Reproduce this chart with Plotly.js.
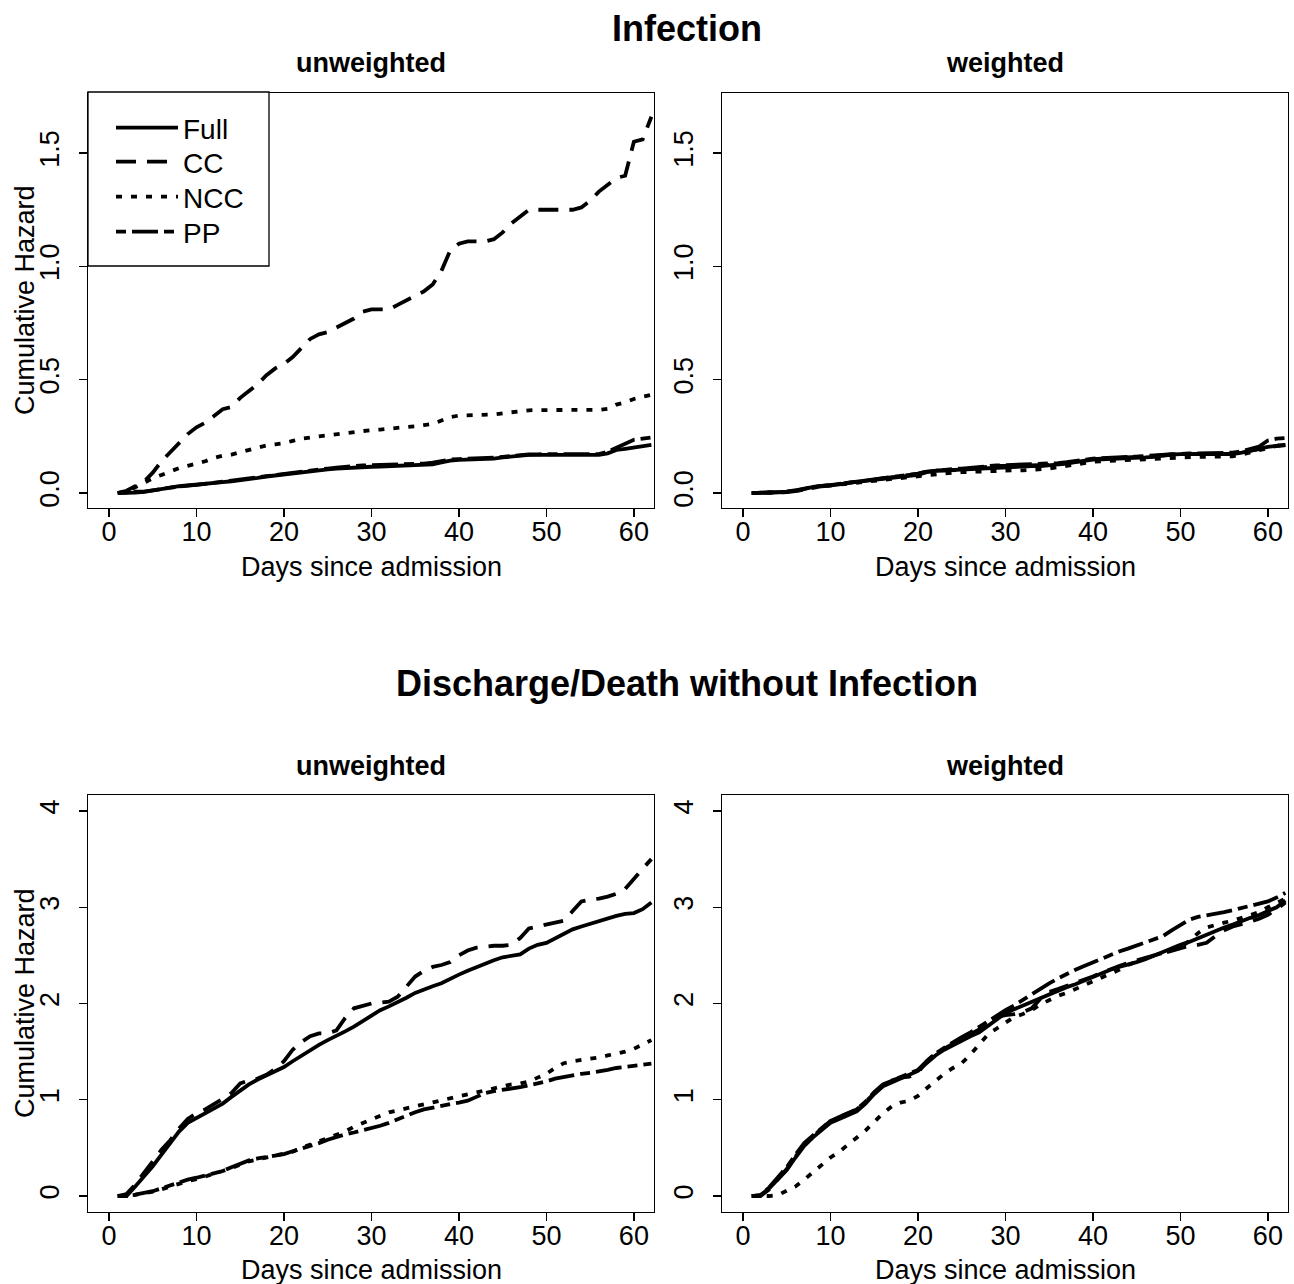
<!DOCTYPE html>
<html>
<head>
<meta charset="utf-8">
<script src="https://cdn.plot.ly/plotly-3.0.1.min.js"></script>
<style>html,body{margin:0;padding:0;background:#fff;}#chart{width:1294px;height:1284px;}</style>
</head>
<body>
<div id="chart"></div>
<script>
// ---------- data ----------
const days = [1,2,3,4,5,6,7,8,9,10,11,12,13,14,15,16,17,18,19,20,21,22,23,24,25,26,27,28,29,30,31,32,33,34,35,36,37,38,39,40,41,42,43,44,45,46,47,48,49,50,51,52,53,54,55,56,57,58,59,60,61,62];
const seriesNames = ["Full", "CC", "NCC", "PP"];
const mainTitles = ["Infection", "Discharge/Death without Infection"];
const panelTitles = ["unweighted", "weighted"];
const xTitle = "Days since admission";
const yTitle = "Cumulative Hazard";
const xTicks = [0,10,20,30,40,50,60];
const yTicksInf = [0,0.5,1,1.5];
const yTicksDis = [0,1,2,3,4];

// Infection, unweighted
const infU_Full = [0,0,0.002,0.005,0.01,0.017,0.024,0.03,0.033,0.035,0.04,0.045,0.048,0.052,0.056,0.061,0.067,0.073,0.078,0.083,0.088,0.093,0.097,0.1,0.104,0.108,0.111,0.113,0.115,0.116,0.117,0.118,0.119,0.119,0.12,0.122,0.126,0.135,0.143,0.146,0.147,0.148,0.149,0.152,0.157,0.162,0.166,0.168,0.168,0.168,0.168,0.168,0.168,0.168,0.168,0.168,0.175,0.19,0.195,0.2,0.207,0.212];
const infU_CC = [0,0.01,0.03,0.05,0.09,0.14,0.18,0.22,0.26,0.29,0.31,0.34,0.37,0.38,0.42,0.45,0.48,0.52,0.55,0.57,0.6,0.64,0.68,0.7,0.71,0.73,0.75,0.77,0.8,0.81,0.81,0.81,0.83,0.85,0.87,0.89,0.92,0.98,1.07,1.1,1.11,1.11,1.11,1.12,1.15,1.19,1.22,1.25,1.25,1.25,1.25,1.25,1.25,1.26,1.29,1.33,1.36,1.39,1.4,1.55,1.56,1.66];
const infU_NCC = [0,0.01,0.025,0.045,0.065,0.08,0.095,0.11,0.12,0.13,0.14,0.155,0.165,0.17,0.18,0.19,0.2,0.21,0.215,0.22,0.23,0.24,0.245,0.25,0.255,0.26,0.265,0.27,0.275,0.278,0.28,0.283,0.287,0.29,0.295,0.3,0.305,0.32,0.335,0.342,0.343,0.344,0.345,0.347,0.352,0.357,0.362,0.365,0.366,0.366,0.366,0.366,0.366,0.366,0.366,0.367,0.372,0.39,0.4,0.415,0.425,0.433];
const infU_PP = [0,0.004,0.006,0.006,0.01,0.017,0.024,0.03,0.033,0.036,0.042,0.047,0.05,0.055,0.06,0.065,0.07,0.076,0.08,0.085,0.09,0.095,0.1,0.104,0.108,0.112,0.116,0.12,0.122,0.123,0.124,0.124,0.125,0.126,0.127,0.13,0.134,0.142,0.148,0.15,0.151,0.152,0.153,0.156,0.16,0.164,0.168,0.17,0.171,0.171,0.171,0.171,0.171,0.171,0.171,0.172,0.182,0.2,0.215,0.235,0.24,0.245];

// Infection, weighted
const infW_Full = [0,0,0,0.002,0.004,0.008,0.018,0.027,0.03,0.032,0.038,0.045,0.05,0.055,0.06,0.064,0.068,0.072,0.076,0.08,0.092,0.098,0.1,0.102,0.104,0.106,0.11,0.113,0.115,0.116,0.117,0.118,0.119,0.119,0.122,0.126,0.13,0.136,0.142,0.148,0.149,0.15,0.151,0.153,0.155,0.157,0.16,0.166,0.17,0.172,0.172,0.172,0.172,0.172,0.172,0.172,0.178,0.188,0.198,0.204,0.208,0.212];
const infW_CC = [0,0,0,0.003,0.006,0.012,0.02,0.028,0.032,0.035,0.04,0.046,0.052,0.056,0.06,0.065,0.07,0.075,0.08,0.085,0.095,0.1,0.1,0.1,0.102,0.108,0.112,0.117,0.12,0.12,0.12,0.12,0.121,0.122,0.124,0.128,0.132,0.138,0.144,0.15,0.152,0.152,0.153,0.155,0.158,0.16,0.163,0.168,0.172,0.172,0.172,0.172,0.172,0.172,0.172,0.174,0.18,0.188,0.196,0.203,0.208,0.212];
const infW_NCC = [0,0,0,0.002,0.004,0.008,0.016,0.024,0.03,0.033,0.038,0.042,0.046,0.05,0.054,0.058,0.062,0.066,0.07,0.074,0.08,0.085,0.088,0.09,0.092,0.094,0.096,0.098,0.1,0.1,0.1,0.1,0.102,0.104,0.108,0.114,0.12,0.128,0.134,0.138,0.14,0.142,0.144,0.146,0.148,0.15,0.152,0.155,0.158,0.16,0.16,0.16,0.16,0.16,0.16,0.162,0.17,0.18,0.19,0.2,0.208,0.215];
const infW_PP = [0,0,0.002,0.004,0.006,0.01,0.02,0.028,0.032,0.035,0.04,0.047,0.052,0.057,0.062,0.066,0.07,0.075,0.08,0.086,0.095,0.1,0.103,0.106,0.108,0.112,0.116,0.12,0.122,0.123,0.124,0.124,0.125,0.126,0.128,0.132,0.136,0.142,0.148,0.152,0.154,0.155,0.156,0.158,0.161,0.164,0.167,0.17,0.173,0.174,0.175,0.175,0.175,0.175,0.176,0.178,0.184,0.194,0.205,0.232,0.24,0.243];

// Discharge/Death without infection, unweighted
const disU_Full = [0,0,0.1,0.2,0.31,0.43,0.55,0.67,0.76,0.81,0.85,0.9,0.96,1.03,1.1,1.16,1.21,1.25,1.29,1.34,1.4,1.46,1.51,1.57,1.62,1.66,1.71,1.76,1.82,1.88,1.93,1.97,2.01,2.06,2.11,2.15,2.18,2.21,2.26,2.3,2.34,2.38,2.42,2.45,2.48,2.5,2.51,2.57,2.61,2.63,2.68,2.73,2.77,2.8,2.83,2.85,2.88,2.91,2.93,2.94,2.98,3.05];
const disU_CC = [0,0.02,0.12,0.24,0.36,0.48,0.58,0.7,0.8,0.86,0.9,0.95,1.01,1.07,1.17,1.2,1.22,1.26,1.32,1.4,1.52,1.6,1.66,1.69,1.69,1.72,1.85,1.95,1.98,2.0,2.01,2.02,2.07,2.18,2.28,2.34,2.38,2.4,2.43,2.5,2.55,2.58,2.59,2.6,2.6,2.61,2.68,2.78,2.8,2.82,2.84,2.86,2.96,3.06,3.08,3.09,3.11,3.14,3.19,3.3,3.4,3.5];
const disU_NCC = [0,0.005,0.012,0.03,0.045,0.07,0.1,0.13,0.155,0.175,0.2,0.23,0.26,0.29,0.33,0.36,0.38,0.4,0.415,0.43,0.46,0.5,0.535,0.565,0.6,0.63,0.67,0.72,0.76,0.8,0.84,0.87,0.89,0.91,0.93,0.95,0.97,1.0,1.02,1.04,1.06,1.08,1.1,1.12,1.14,1.16,1.17,1.19,1.23,1.27,1.33,1.38,1.4,1.41,1.43,1.44,1.46,1.48,1.5,1.53,1.57,1.62];
const disU_PP = [0,0,0.015,0.03,0.05,0.08,0.11,0.145,0.17,0.19,0.215,0.24,0.26,0.3,0.34,0.37,0.39,0.405,0.42,0.435,0.465,0.49,0.52,0.55,0.585,0.615,0.64,0.66,0.68,0.7,0.73,0.76,0.8,0.84,0.87,0.9,0.92,0.94,0.955,0.97,0.99,1.03,1.07,1.09,1.1,1.115,1.13,1.15,1.17,1.19,1.22,1.24,1.26,1.27,1.28,1.29,1.31,1.33,1.34,1.35,1.36,1.375];

// Discharge/Death without infection, weighted
const disW_Full = [0,0.01,0.08,0.18,0.27,0.4,0.52,0.61,0.69,0.76,0.8,0.84,0.88,0.96,1.06,1.14,1.18,1.22,1.26,1.3,1.38,1.46,1.52,1.57,1.62,1.66,1.7,1.77,1.84,1.9,1.94,1.98,2.02,2.06,2.1,2.13,2.17,2.2,2.24,2.28,2.32,2.35,2.38,2.4,2.43,2.46,2.5,2.54,2.58,2.61,2.64,2.68,2.72,2.76,2.79,2.82,2.86,2.89,2.92,2.96,3.0,3.07];
const disW_CC = [0,0,0.07,0.17,0.28,0.41,0.53,0.62,0.7,0.78,0.82,0.86,0.9,0.98,1.07,1.15,1.2,1.23,1.24,1.28,1.4,1.48,1.53,1.58,1.63,1.68,1.73,1.8,1.86,1.88,1.89,1.91,1.95,2.05,2.12,2.15,2.18,2.21,2.24,2.28,2.32,2.36,2.39,2.42,2.45,2.48,2.5,2.52,2.55,2.58,2.6,2.61,2.63,2.7,2.76,2.8,2.82,2.85,2.88,2.92,2.98,3.05];
const disW_NCC = [0,0,0,0.01,0.05,0.1,0.17,0.25,0.33,0.4,0.46,0.53,0.61,0.68,0.77,0.86,0.93,0.97,0.99,1.04,1.12,1.2,1.27,1.33,1.38,1.47,1.58,1.68,1.74,1.8,1.86,1.89,1.93,1.99,2.04,2.08,2.11,2.15,2.19,2.23,2.26,2.3,2.35,2.4,2.44,2.47,2.5,2.53,2.55,2.58,2.65,2.73,2.79,2.82,2.84,2.86,2.89,2.92,2.95,3.0,3.04,3.09];
const disW_PP = [0,0.01,0.09,0.2,0.3,0.43,0.55,0.63,0.71,0.78,0.82,0.86,0.9,0.98,1.08,1.16,1.2,1.23,1.27,1.31,1.4,1.48,1.54,1.6,1.65,1.7,1.76,1.82,1.88,1.93,1.98,2.04,2.1,2.16,2.21,2.26,2.31,2.35,2.39,2.43,2.47,2.51,2.54,2.57,2.6,2.63,2.66,2.7,2.76,2.82,2.87,2.9,2.92,2.94,2.95,2.97,2.99,3.01,3.03,3.06,3.1,3.15];

// ---------- styling ----------
const FONT = "Liberation Sans, Arial, Helvetica, sans-serif";
const dashes = {Full: "solid", CC: "20px,11px", NCC: "6px,9px", PP: "10px,6px,26px,6px"};
const LW = 3.8;
const legendIds = ["legend", "legend2", "legend3", "legend4"];

const panels = [
  {xa: "x",  ya: "y",  data: [infU_Full, infU_CC, infU_NCC, infU_PP], legend: true},
  {xa: "x2", ya: "y2", data: [infW_Full, infW_CC, infW_NCC, infW_PP], legend: false},
  {xa: "x3", ya: "y3", data: [disU_Full, disU_CC, disU_NCC, disU_PP], legend: false},
  {xa: "x4", ya: "y4", data: [disW_Full, disW_CC, disW_NCC, disW_PP], legend: false}
];

const traces = [];
panels.forEach(p => {
  p.data.forEach((vals, i) => {
    traces.push({
      x: days, y: vals, type: "scatter", mode: "lines",
      name: seriesNames[i], xaxis: p.xa, yaxis: p.ya,
      legend: legendIds[i],
      line: {color: "#000", width: LW, dash: dashes[seriesNames[i]]},
      showlegend: p.legend, hoverinfo: "skip"
    });
  });
});

const W = 1294, H = 1284;
const xL = [88/W, 654/W], xR = [722/W, 1288/W];
const yT = [1 - 508/H, 1 - 93/H], yB = [1 - 1212/H, 1 - 795/H];

function xAxis(domain, anchor) {
  return {
    domain: domain, anchor: anchor, range: [-2.4, 62.3],
    tickmode: "array", tickvals: xTicks, ticks: "outside", ticklen: 8, tickwidth: 1.3, tickcolor: "#000",
    ticklabelstandoff: -9,
    showline: true, mirror: true, linecolor: "#000", linewidth: 1.3,
    showgrid: false, zeroline: false, fixedrange: true,
    tickfont: {family: FONT, size: 27, color: "#000"}
  };
}
function yAxis(domain, anchor, range, ticks, fmt) {
  return {
    domain: domain, anchor: anchor, range: range,
    tickmode: "array", tickvals: ticks, tickformat: fmt, ticks: "outside", ticklen: 8, tickwidth: 1.3, tickcolor: "#000",
    tickangle: -90, ticklabelstandoff: 9,
    showline: true, mirror: true, linecolor: "#000", linewidth: 1.3,
    showgrid: false, zeroline: false, fixedrange: true,
    tickfont: {family: FONT, size: 27, color: "#000"}
  };
}

function ann(text, x, y, size, bold, angle) {
  return {
    text: bold ? "<b>" + text + "</b>" : text, x: x, y: y, xref: "paper", yref: "paper",
    xanchor: "center", yanchor: "middle", showarrow: false, textangle: angle || 0,
    font: {family: FONT, size: size, color: "#000"}
  };
}

const cxL = (88 + 654) / 2 / W, cxR = (722 + 1288) / 2 / W;
const annotations = [
  ann(mainTitles[0], 687 / W, 1 - 28 / H, 36, true),
  ann(mainTitles[1], 687 / W, 1 - 683 / H, 36, true),
  ann(panelTitles[0], cxL, 1 - 63 / H, 27, true),
  ann(panelTitles[1], cxR, 1 - 63 / H, 27, true),
  ann(panelTitles[0], cxL, 1 - 766 / H, 27, true),
  ann(panelTitles[1], cxR, 1 - 766 / H, 27, true),
  ann(xTitle, cxL, 1 - 567 / H, 27, false),
  ann(xTitle, cxR, 1 - 567 / H, 27, false),
  ann(xTitle, cxL, 1 - 1270 / H, 27, false),
  ann(xTitle, cxR, 1 - 1270 / H, 27, false),
  ann(yTitle, 25 / W, 1 - 300 / H, 27, false, -90),
  ann(yTitle, 25 / W, 1 - 1003 / H, 27, false, -90)
];

// legend: one Plotly legend per entry, inside a framed box
const legendRowsY = [128, 162, 197, 232];
const legendX = 111, legendItemW = 62;
function legendCfg(rowY) {
  return {
    x: legendX / W, y: 1 - rowY / H, xanchor: "left", yanchor: "middle",
    bgcolor: "rgba(0,0,0,0)", borderwidth: 0,
    font: {family: FONT, size: 28, color: "#000"},
    itemwidth: legendItemW
  };
}

const layout = {
  width: W, height: H,
  margin: {l: 0, r: 0, t: 0, b: 0},
  paper_bgcolor: "#fff", plot_bgcolor: "#fff",
  font: {family: FONT, color: "#000"},
  xaxis: xAxis(xL, "y"),
  yaxis: yAxis(yT, "x", [-0.066, 1.765], yTicksInf, ".1f"),
  xaxis2: xAxis(xR, "y2"),
  yaxis2: yAxis(yT, "x2", [-0.066, 1.765], yTicksInf, ".1f"),
  xaxis3: xAxis(xL, "y3"),
  yaxis3: yAxis(yB, "x3", [-0.166, 4.166], yTicksDis, "d"),
  xaxis4: xAxis(xR, "y4"),
  yaxis4: yAxis(yB, "x4", [-0.166, 4.166], yTicksDis, "d"),
  showlegend: true,
  legend: legendCfg(legendRowsY[0]),
  legend2: legendCfg(legendRowsY[1]),
  legend3: legendCfg(legendRowsY[2]),
  legend4: legendCfg(legendRowsY[3]),
  shapes: [{
    type: "rect", xref: "paper", yref: "paper", layer: "above",
    x0: 88 / W, x1: 269 / W, y0: 1 - 266 / H, y1: 1 - 92 / H,
    line: {color: "#000", width: 1.3}, fillcolor: "#fff"
  }],
  annotations: annotations
};

Plotly.newPlot("chart", traces, layout, {staticPlot: true, displayModeBar: false});
</script>
</body>
</html>
